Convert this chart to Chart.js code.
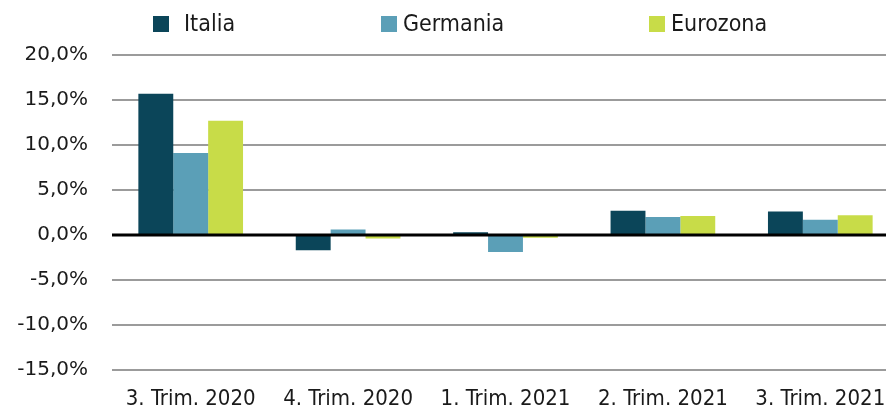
<!DOCTYPE html>
<html>
<head>
<meta charset="utf-8">
<script src="https://cdn.jsdelivr.net/npm/chart.js@4/dist/chart.umd.min.js"></script>
<style>
  html, body { margin: 0; padding: 0; background: #fff; overflow: hidden; }
  /* il grafico originale è tagliato a destra: l'area è più larga della finestra */
  #wrap { width: 899px; height: 409px; position: relative; }
</style>
</head>
<body>
<div id="wrap"><canvas id="gdpChart"></canvas></div>
<script>
// trimestri e variazioni congiunturali (%)
var quarters = ['3. Trim. 2020', '4. Trim. 2020', '1. Trim. 2021', '2. Trim. 2021', '3. Trim. 2021'];
var italia   = [15.7, -1.7, 0.3, 2.7, 2.6];
var germania = [9.1, 0.6, -1.9, 2.0, 1.7];
var eurozona = [12.7, -0.4, -0.3, 2.1, 2.2];

var seriesNames  = ['Italia', 'Germania', 'Eurozona'];
var seriesColors = ['#0b4559', '#5b9fb7', '#c8dc48'];

// legenda disegnata a mano (spaziatura larga come nell'originale)
var legendPlugin = {
  id: 'topLegend',
  afterDraw: function (chart, args, opts) {
    var ctx = chart.ctx;
    ctx.save();
    ctx.font = '23px "DejaVu Sans Condensed", "DejaVu Sans", sans-serif';
    ctx.textBaseline = 'alphabetic';
    chart.data.datasets.forEach(function (ds, i) {
      var x = opts.lefts[i];
      ctx.fillStyle = ds.backgroundColor;
      ctx.fillRect(x, 16, 16, 16);
      ctx.fillStyle = '#1a1a1a';
      ctx.fillText(ds.label, x + 16 + opts.gaps[i], 31);
    });
    ctx.restore();
  }
};

// linea dello zero sopra le barre
var zeroLine = {
  id: 'zeroLine',
  afterDatasetsDraw: function (chart) {
    var y = chart.scales.y.getPixelForValue(0);
    var area = chart.chartArea;
    var ctx = chart.ctx;
    ctx.save();
    ctx.strokeStyle = '#000';
    ctx.lineWidth = 3;
    ctx.beginPath();
    ctx.moveTo(area.left, y);
    ctx.lineTo(area.right, y);
    ctx.stroke();
    ctx.restore();
  }
};

var ctx = document.getElementById('gdpChart').getContext('2d');
var chart = new Chart(ctx, {
  type: 'bar',
  data: {
    labels: quarters,
    datasets: [
      { label: seriesNames[0], data: italia,   backgroundColor: seriesColors[0] },
      { label: seriesNames[1], data: germania, backgroundColor: seriesColors[1] },
      { label: seriesNames[2], data: eurozona, backgroundColor: seriesColors[2] }
    ]
  },
  options: {
    responsive: true,
    maintainAspectRatio: false,
    animation: false,
    layout: { padding: { top: 55, right: 0, bottom: 0, left: 0 } },
    datasets: {
      bar: { categoryPercentage: 0.665, barPercentage: 1.0, borderWidth: 0 }
    },
    plugins: {
      legend: { display: false },
      tooltip: { enabled: false },
      topLegend: { lefts: [153, 381, 649], gaps: [15, 6, 6] }
    },
    scales: {
      x: {
        grid: { display: false },
        border: { display: false },
        ticks: {
          color: '#1a1a1a',
          padding: 8,
          maxRotation: 0,
          font: { family: '"DejaVu Sans Condensed", "DejaVu Sans", sans-serif', size: 22 }
        },
        afterFit: function (scale) { scale.height = 39; }
      },
      y: {
        min: -15,
        max: 20,
        border: { display: false },
        grid: { color: '#9b9b9b', lineWidth: 2, drawTicks: false },
        ticks: {
          stepSize: 5,
          color: '#1a1a1a',
          padding: 24,
          font: { family: '"DejaVu Sans", sans-serif', size: 20 },
          callback: function (v) { return v.toFixed(1).replace('.', ',') + '%'; }
        },
        afterFit: function (scale) { scale.width = 112; }
      }
    }
  },
  plugins: [legendPlugin, zeroLine]
});
</script>
</body>
</html>
